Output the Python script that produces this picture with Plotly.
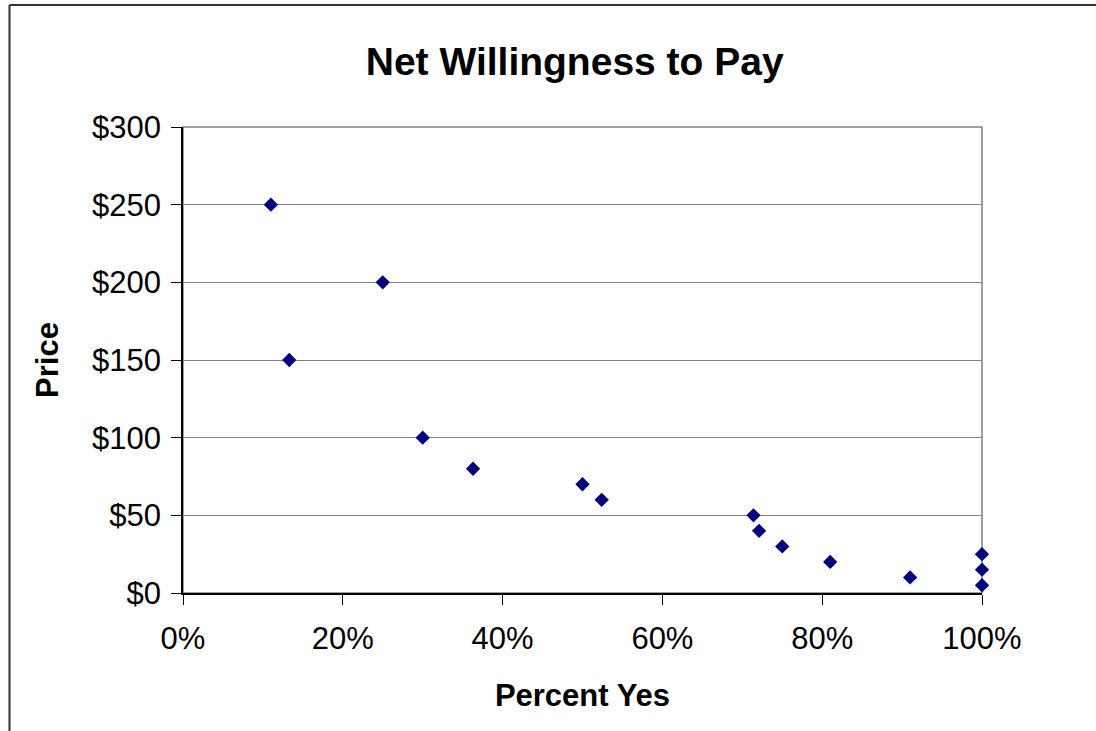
import plotly.graph_objects as go

# Share of respondents answering "yes" at each price point
percent_yes = [0.11, 0.25, 0.133, 0.30, 0.363, 0.50, 0.524, 0.714, 0.721, 0.75, 0.81, 0.91, 1.00, 1.00, 1.00]
price = [250, 200, 150, 100, 80, 70, 60, 50, 40, 30, 20, 10, 25, 15, 5]

x_ticks = [0, 0.2, 0.4, 0.6, 0.8, 1.0]
x_tick_labels = ["0%", "20%", "40%", "60%", "80%", "100%"]
y_ticks = [0, 50, 100, 150, 200, 250, 300]
y_tick_labels = ["$0", "$50", "$100", "$150", "$200", "$250", "$300"]

W, H = 1096, 731
L, R, T, B = 183, 114, 127, 138
plot_w = W - L - R
plot_h = H - T - B

FONT = "Liberation Sans, Arial, sans-serif"


def px_to_paper_x(px):
    return (px - L) / plot_w


def px_to_paper_y(py):
    return (H - B - py) / plot_h


fig = go.Figure(
    go.Scatter(
        x=percent_yes,
        y=price,
        mode="markers",
        marker=dict(symbol="diamond", size=11, color="#000080", line=dict(width=0)),
        cliponaxis=False,
        showlegend=False,
    )
)

fig.update_layout(
    width=W,
    height=H,
    margin=dict(l=L, r=R, t=T, b=B),
    paper_bgcolor="white",
    plot_bgcolor="white",
    font=dict(family=FONT, color="black"),
    title=dict(
        text="<b>Net Willingness to Pay</b>",
        font=dict(size=39, family=FONT, color="black"),
        x=px_to_paper_x(574.7),
        xref="paper",
        xanchor="center",
        y=1 - 61 / H,
        yref="container",
        yanchor="middle",
    ),
    xaxis=dict(
        range=[0, 1],
        tickvals=x_ticks,
        ticktext=x_tick_labels,
        ticks="outside",
        ticklen=10,
        tickwidth=1,
        tickcolor="black",
        tickfont=dict(size=31, family=FONT),
        ticklabelstandoff=7,
        showgrid=False,
        zeroline=False,
        showline=True,
        linecolor="black",
        linewidth=1.5,
        title=dict(text="<b>Percent Yes</b>", font=dict(size=31, family=FONT), standoff=29),
        fixedrange=True,
    ),
    yaxis=dict(
        range=[0, 300],
        tickvals=y_ticks,
        ticktext=y_tick_labels,
        ticks="outside",
        ticklen=10,
        tickwidth=1,
        tickcolor="black",
        tickfont=dict(size=31, family=FONT),
        ticklabelstandoff=4,
        showgrid=True,
        gridcolor="#808080",
        gridwidth=1,
        zeroline=False,
        showline=True,
        linecolor="black",
        linewidth=1.5,
        title=dict(text="<b>Price</b>", font=dict(size=31, family=FONT), standoff=24),
        fixedrange=True,
    ),
    shapes=[
        # plot-area frame (top and right edges in gray)
        dict(type="rect", xref="paper", yref="paper", x0=0, x1=1, y0=0, y1=1,
             line=dict(color="#808080", width=1.5), layer="below"),
        # outer chart-area border: top and left edges
        dict(type="line", xref="paper", yref="paper",
             x0=px_to_paper_x(9.5), x1=px_to_paper_x(W + 20),
             y0=px_to_paper_y(5), y1=px_to_paper_y(5),
             line=dict(color="#333333", width=2)),
        dict(type="line", xref="paper", yref="paper",
             x0=px_to_paper_x(9.5), x1=px_to_paper_x(9.5),
             y0=px_to_paper_y(5), y1=px_to_paper_y(H + 20),
             line=dict(color="#333333", width=2)),
    ],
)

fig.write_html("out.html")
